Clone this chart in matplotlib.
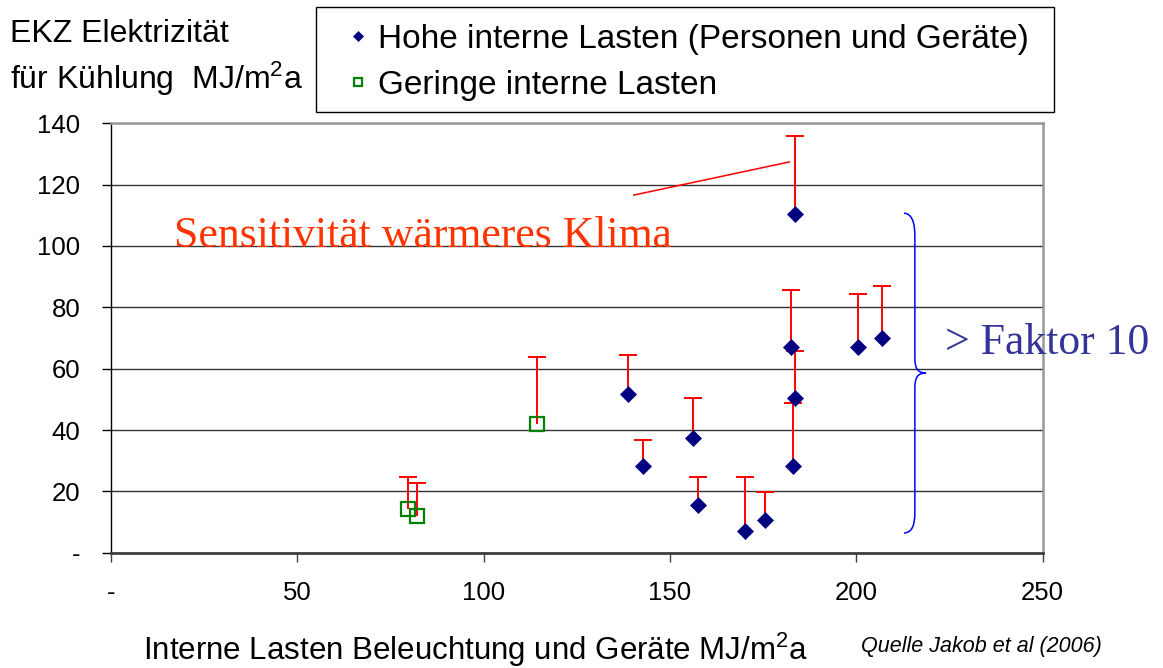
import matplotlib
matplotlib.use('Agg')
import matplotlib.pyplot as plt
from matplotlib.path import Path
from matplotlib.patches import PathPatch, Rectangle
from matplotlib.ticker import FuncFormatter

plt.rcParams['font.family'] = ['Liberation Sans', 'DejaVu Sans']
plt.rcParams['mathtext.fontset'] = 'custom'
plt.rcParams['mathtext.rm'] = 'Liberation Sans'
plt.rcParams['mathtext.it'] = 'Liberation Sans:italic'

# ---- data ----
high_x = [138.7, 142.8, 156.2, 157.4, 170.1, 175.4, 182.4, 183.5, 183.5, 183.0, 200.5, 207.0]
high_y = [51.6, 28.3, 37.5, 15.6, 7.1, 10.7, 67.2, 110.4, 50.3, 28.3, 67.2, 70.1]
high_top = [64.5, 36.7, 50.3, 24.8, 24.8, 19.9, 85.7, 136.0, 65.9, 48.9, 84.4, 87.1]

low_x = [79.8, 82.2, 114.3]
low_y = [14.2, 12.0, 41.9]
low_top = [24.8, 22.7, 63.8]

x_ticks = [0, 50, 100, 150, 200, 250]
y_ticks = [0, 20, 40, 60, 80, 100, 120, 140]

label_high = 'Hohe interne Lasten (Personen und Geräte)'
label_low = 'Geringe interne Lasten'

W, H = 1163, 668

# ---- figure ----
fig = plt.figure(figsize=(11.63, 6.68), dpi=100)
ax = fig.add_axes([0.0952, 0.1726, 0.8014, 0.6428])
ax.set_xlim(0, 250)
ax.set_ylim(0, 140)

# error bars (upper only)
err_kw = dict(color='#FF0000', lw=1.4, zorder=2)
ax.vlines(high_x + low_x, high_y + low_y, high_top + low_top, **err_kw)
ax.plot(high_x + low_x, high_top + low_top, ls='none', marker='_', ms=12.5,
        mew=1.4, color='#FF0000', zorder=2)

# markers
ax.plot(high_x, high_y, ls='none', marker='D', ms=8, color='#000080',
        mec='#000080', mew=0.5, zorder=3, label=label_high)
ax.plot(low_x, low_y, ls='none', marker='s', ms=9.5, mfc='none',
        mec='#008000', mew=1.6, zorder=3, label=label_low)

# axes styling
ax.set_xticks(x_ticks)
ax.set_yticks(y_ticks)
fmt = FuncFormatter(lambda v, p: '-' if v == 0 else f'{v:g}')
ax.xaxis.set_major_formatter(fmt)
ax.yaxis.set_major_formatter(fmt)
ax.tick_params(axis='y', direction='out', length=6.5, width=1, pad=15.5,
               labelsize=18.5, color='black')
ax.tick_params(axis='x', direction='out', length=6.5, width=1, pad=14,
               labelsize=18.5, color='#404040')
ax.yaxis.grid(True, color='#333333', lw=1.0)
ax.set_axisbelow(True)
ax.spines['left'].set_color('black')
ax.spines['left'].set_linewidth(1.0)
ax.spines['bottom'].set_color('#404040')
ax.spines['bottom'].set_linewidth(2.0)
for s in ('top', 'right'):
    ax.spines[s].set_color('#999999')
    ax.spines[s].set_linewidth(1.8)

# annotation line
ax.plot([140.3, 182.0], [116.6, 127.4], color='#FF0000', lw=1.1, zorder=2)
ax.text(16.9, 99.7, 'Sensitivität wärmeres Klima', family='Liberation Serif',
        fontsize=31.5, color='#FF3300', va='baseline', ha='left')

# brace
verts = [(212.8, 110.7), (215.0, 110.5), (215.7, 107.5), (215.7, 103.1),
         (215.7, 63.5),
         (215.7, 60.0), (216.5, 58.6), (218.7, 58.6),
         (216.5, 58.6), (215.7, 57.2), (215.7, 53.7),
         (215.7, 13.4),
         (215.7, 9.0), (215.0, 6.6), (212.8, 6.4)]
codes = [Path.MOVETO, Path.CURVE4, Path.CURVE4, Path.CURVE4,
         Path.LINETO,
         Path.CURVE4, Path.CURVE4, Path.CURVE4,
         Path.CURVE4, Path.CURVE4, Path.CURVE4,
         Path.LINETO,
         Path.CURVE4, Path.CURVE4, Path.CURVE4]
ax.add_patch(PathPatch(Path(verts, codes), fc='none', ec='#0000FF', lw=1.1,
                       clip_on=False, zorder=4))
ax.text(223.8, 64.8, '> Faktor 10', family='Liberation Serif', fontsize=31.5,
        color='#333399', va='baseline', ha='left', clip_on=False)

# legend box + legend
fig.patches.append(Rectangle((316 / W, 1 - 112 / H), (1054 - 316) / W, 105 / H,
                             transform=fig.transFigure, fc='white', ec='black',
                             lw=1.0, zorder=1))
leg = fig.legend(loc='upper left', bbox_to_anchor=(345 / W, 1 - 24 / H),
                 fontsize=24, frameon=False, borderaxespad=0, borderpad=0,
                 markerscale=0.65, handlelength=0.8, handletextpad=0.2,
                 labelspacing=0.45)

# axis titles
fig.text(10 / W, 1 - 42 / H, 'EKZ Elektrizität', fontsize=23,
         va='baseline', ha='left')
fig.text(10 / W, 1 - 89 / H, 'für Kühlung  MJ/m$^{2}$a', fontsize=23,
         va='baseline', ha='left')
fig.text(143 / W, 1 - 660 / H,
         'Interne Lasten Beleuchtung und Geräte MJ/m$^{2}$a', fontsize=22.5,
         va='baseline', ha='left')
fig.text(861 / W, 1 - 652 / H, 'Quelle Jakob et al (2006)', fontsize=15.5,
         style='italic', va='baseline', ha='left')

fig.savefig('out.png', dpi=100)
